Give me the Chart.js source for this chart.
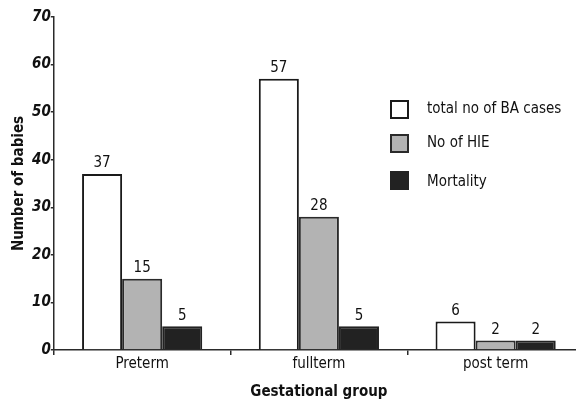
<!DOCTYPE html>
<html>
<head>
<meta charset="utf-8">
<script src="https://cdn.jsdelivr.net/npm/chart.js@4"></script>
<style>
  html, body { margin: 0; padding: 0; background: #fff; overflow: hidden; }
  #wrap { position: relative; width: 584px; height: 407px; }
</style>
</head>
<body>
<div id="wrap"><canvas id="grafico"></canvas></div>
<script>
const grupos = ['Preterm', 'fullterm', 'post term'];
const totalCasos = [37, 57, 6];
const casosHIE = [15, 28, 2];
const mortalidad = [5, 5, 2];
const yTicks = [0, 10, 20, 30, 40, 50, 60, 70];

const fuente = "'Liberation Sans Narrow', 'DejaVu Sans Condensed', 'Liberation Sans', sans-serif";
const lineaEje = '#2a2a2a';

// numbers above each bar
const etiquetas = {
  id: 'etiquetas',
  afterDatasetsDraw(chart) {
    const ctx = chart.ctx;
    ctx.save();
    ctx.font = '15px ' + fuente;
    ctx.fillStyle = '#111';
    ctx.textAlign = 'center';
    ctx.textBaseline = 'bottom';
    chart.data.datasets.forEach((ds, i) => {
      chart.getDatasetMeta(i).data.forEach((bar, j) => {
        ctx.fillText(ds.data[j], bar.x, bar.y - 3);
      });
    });
    ctx.restore();
  }
};

// legend drawn inside the plot area
const leyenda = {
  id: 'leyenda',
  afterDraw(chart) {
    const ctx = chart.ctx;
    const filas = [109, 143, 180];
    ctx.save();
    ctx.font = '15px ' + fuente;
    ctx.textBaseline = 'middle';
    chart.data.datasets.forEach((ds, i) => {
      const y = filas[i];
      ctx.fillStyle = ds.backgroundColor;
      ctx.fillRect(391, y - 8, 17, 17);
      ctx.lineWidth = 2;
      ctx.strokeStyle = ds.borderColor;
      ctx.strokeRect(391, y - 8, 17, 17);
      ctx.fillStyle = '#111';
      ctx.fillText(ds.label, 427, y + (i === 2 ? 2 : 0));
    });
    ctx.restore();
  }
};

const ctx = document.getElementById('grafico').getContext('2d');
new Chart(ctx, {
  type: 'bar',
  data: {
    labels: grupos,
    datasets: [
      { label: 'total no of BA cases', data: totalCasos, backgroundColor: '#ffffff', borderColor: '#1a1a1a', borderWidth: 2 },
      { label: 'No of HIE', data: casosHIE, backgroundColor: '#b3b3b3', borderColor: '#2a2a2a', borderWidth: 2 },
      { label: 'Mortality', data: mortalidad, backgroundColor: '#222222', borderColor: '#222222', borderWidth: 2 }
    ]
  },
  options: {
    responsive: true,
    maintainAspectRatio: false,
    animation: false,
    datasets: { bar: { categoryPercentage: 0.68, barPercentage: 1.0 } },
    layout: { padding: { top: 17, right: 0, left: 6, bottom: 2 } },
    plugins: {
      legend: { display: false },
      tooltip: { enabled: false }
    },
    scales: {
      x: {
        grid: { drawOnChartArea: false, drawTicks: true, tickLength: 5, color: lineaEje, lineWidth: 1.5 },
        border: { color: lineaEje, width: 1.5 },
        ticks: { color: '#111', font: { family: fuente, size: 15 }, padding: 0 },
        title: { display: true, text: 'Gestational group', color: '#111', font: { family: fuente, size: 15, weight: 'bold' }, padding: { top: 10 } }
      },
      y: {
        min: 0,
        max: 70,
        afterBuildTicks: (scale) => { scale.ticks = yTicks.map(v => ({ value: v })); },
        grid: { drawOnChartArea: false, drawTicks: true, tickLength: 3, color: lineaEje, lineWidth: 1.5 },
        border: { color: lineaEje, width: 1.5 },
        ticks: { color: '#111', font: { family: fuente, size: 15, weight: 'bold', style: 'italic' }, padding: 0 },
        title: { display: true, text: 'Number of babies', color: '#111', font: { family: fuente, size: 15, weight: 'bold' }, padding: { bottom: 4 } }
      }
    }
  },
  plugins: [etiquetas, leyenda]
});
</script>
</body>
</html>
